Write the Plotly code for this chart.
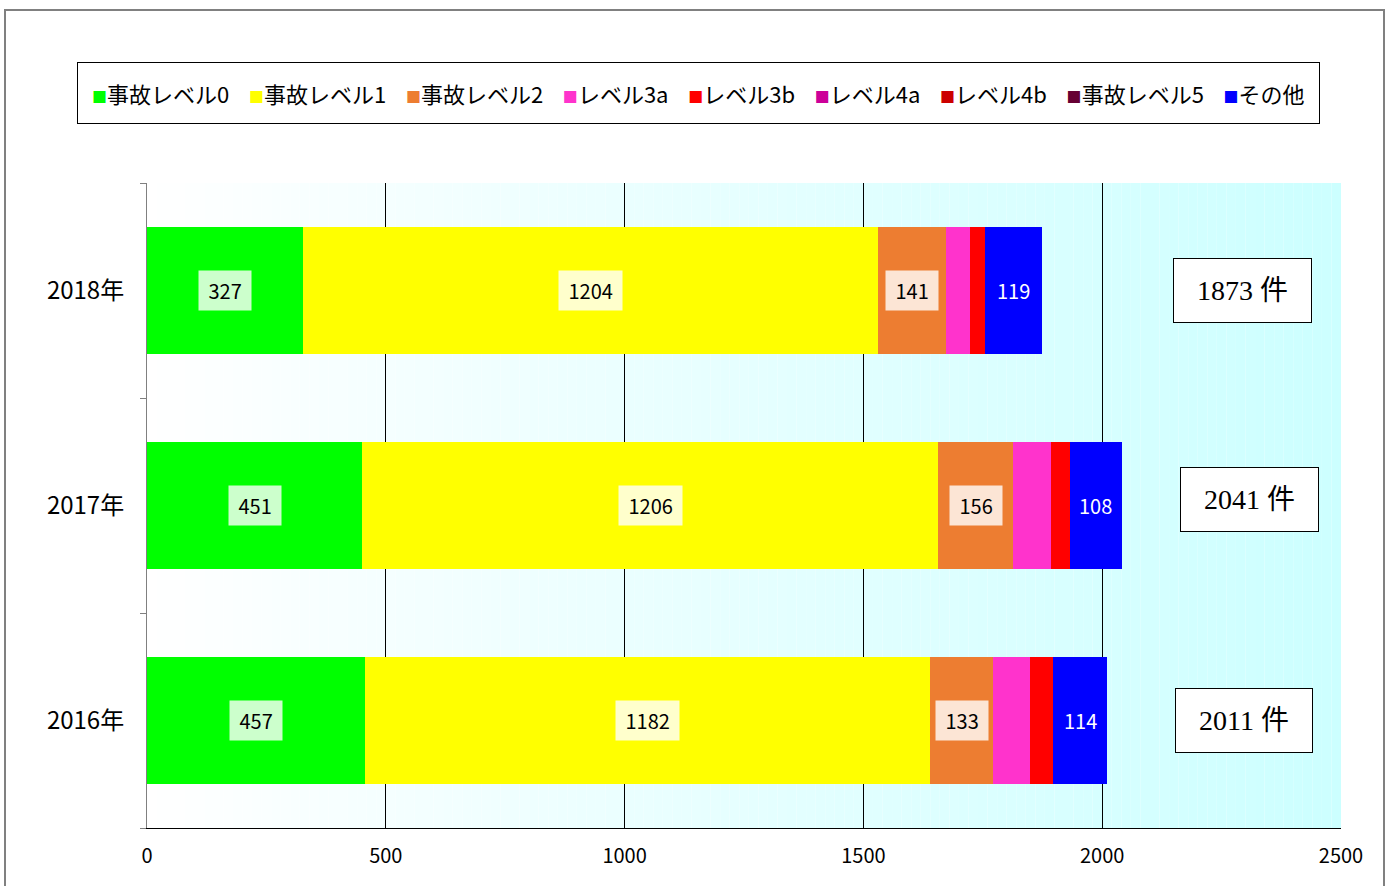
import plotly.graph_objects as go

# ---- data ----
years = ['2016年', '2017年', '2018年']
series_names = ['事故レベル0', '事故レベル1', '事故レベル2', 'レベル3a', 'レベル3b',
                'レベル4a', 'レベル4b', '事故レベル5', 'その他']
level0 = [457, 451, 327]
level1 = [1182, 1206, 1204]
level2 = [133, 156, 141]
level3a = [76, 79, 52]
level3b = [49, 41, 30]
level4a = [0, 0, 0]
level4b = [0, 0, 0]
level5 = [0, 0, 0]
other = [114, 108, 119]
totals = [2011, 2041, 1873]
x_tick_values = [0, 500, 1000, 1500, 2000, 2500]

# ---- styles ----
series_values = [level0, level1, level2, level3a, level3b, level4a, level4b, level5, other]
colors = ['#00FF00', '#FFFF00', '#ED7D31', '#FF33CC', '#FF0000',
          '#CC0099', '#CC0000', '#660033', '#0000FF']
labeled = {0: 'dark', 1: 'dark', 2: 'dark', 8: 'light'}
FONT = 'Noto Sans CJK JP, Noto Sans, sans-serif'
TOTAL_X = 2300
total_box_shift = [(-1, 0), (4, 6), (-3, 0)]  # (xshift, yshift) in px per year box

fig = go.Figure()
for name, vals, col in zip(series_names, series_values, colors):
    fig.add_trace(go.Bar(y=years, x=vals, orientation='h', name=name,
                         marker=dict(color=col, line=dict(width=0)),
                         hoverinfo='x+name', showlegend=False))

annotations = []
cum = [0] * len(years)
for si, vals in enumerate(series_values):
    for yi, v in enumerate(vals):
        if si in labeled and v > 0:
            mid = cum[yi] + v / 2
            if labeled[si] == 'dark':
                annotations.append(dict(x=mid, y=years[yi], xref='x', yref='y',
                                        text=f'&nbsp;{v}&nbsp;',
                                        showarrow=False, font=dict(size=20, color='black', family=FONT),
                                        bgcolor='rgba(255,255,255,0.8)', borderpad=5))
            else:
                annotations.append(dict(x=mid, y=years[yi], xref='x', yref='y', text=str(v),
                                        showarrow=False, font=dict(size=20, color='white', family=FONT)))
        cum[yi] += v

for yi, t in enumerate(totals):
    xs, ys = total_box_shift[yi]
    annotations.append(dict(x=TOTAL_X, y=years[yi], xref='x', yref='y',
                            text=f'&nbsp;{t} 件&nbsp;', xshift=xs, yshift=ys,
                            showarrow=False,
                            font=dict(size=28, color='black', family='Liberation Serif, Noto Sans CJK JP, serif'),
                            bgcolor='white', bordercolor='black', borderwidth=1, borderpad=16))

# layout geometry (pixels)
W, H = 1391, 886
L, R, T, B = 147, 50, 183, 58
pw, ph = W - L - R, H - T - B

# custom legend box (small coloured squares next to the names)
legend_parts = []
for name, col in zip(series_names, colors):
    legend_parts.append(f'<span style="color:{col};font-size:15px">■</span>{name}')
legend_text = '&nbsp;&nbsp;&nbsp;&nbsp;'.join(legend_parts)
annotations.append(dict(x=(698.5 - L) / pw, y=(ph + T - 92.5) / ph, xref='paper', yref='paper',
                        xanchor='center', yanchor='middle', showarrow=False,
                        text=legend_text, font=dict(size=22, color='black', family=FONT),
                        bgcolor='white', bordercolor='black', borderwidth=1, borderpad=14))

# gradient background (white -> light cyan) drawn below grid
shapes = []
N = 125
step = x_tick_values[-1] / N
for i in range(N):
    f = (i + 0.5) / N
    r = round(255 - 51 * f)
    shapes.append(dict(type='rect', xref='x', yref='paper', x0=i * step, x1=(i + 1) * step,
                       y0=0, y1=1, fillcolor=f'rgb({r},255,255)', line=dict(width=0),
                       layer='below'))

# outer frame
shapes.append(dict(type='rect', xref='paper', yref='paper',
                   x0=(5 - L) / pw, x1=(1384 - L) / pw,
                   y0=(ph + T - 900) / ph, y1=(ph + T - 10) / ph,
                   line=dict(color='#808080', width=2), fillcolor='rgba(0,0,0,0)',
                   layer='above'))

fig.update_layout(
    width=W, height=H, autosize=False,
    margin=dict(l=L, r=R, t=T, b=B),
    barmode='stack', bargap=0.41,
    paper_bgcolor='white', plot_bgcolor='rgba(0,0,0,0)',
    font=dict(family=FONT, color='black'),
    showlegend=False,
    xaxis=dict(range=[0, 2500], tickvals=x_tick_values, showgrid=True, gridcolor='black',
               gridwidth=1, showline=True, linecolor='black', linewidth=1,
               ticks='inside', ticklen=5, tickcolor='black', zeroline=False,
               tickfont=dict(size=20, color='black', family=FONT), ticklabelstandoff=10),
    yaxis=dict(categoryorder='array', categoryarray=years, showgrid=False,
               showline=True, linecolor='#808080', linewidth=1,
               ticks='outside', tickson='boundaries', ticklen=6, tickcolor='#808080',
               tickfont=dict(size=24, color='black', family=FONT), ticklabelstandoff=17),
    annotations=annotations,
    shapes=shapes,
)

fig.write_html('out.html', config={'displayModeBar': False},
               post_script="document.body.style.margin='0px';")
